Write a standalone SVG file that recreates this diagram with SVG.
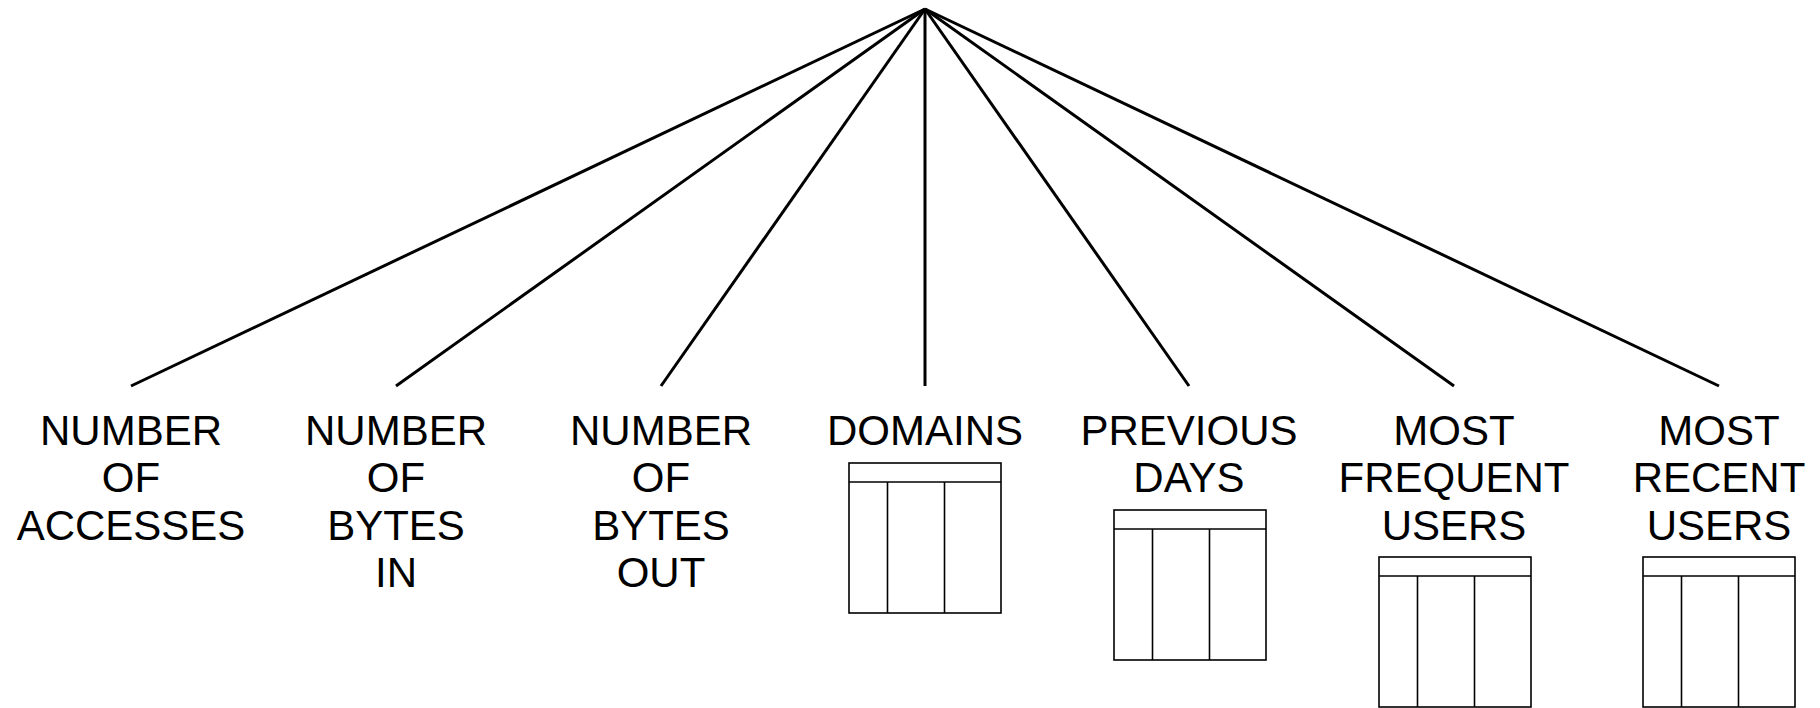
<svg xmlns="http://www.w3.org/2000/svg" width="1820" height="708" viewBox="0 0 1820 708">
<style>
.lbl{font-family:"Liberation Sans",Arial,sans-serif;font-size:42px;fill:#000;text-anchor:middle}
.conn{stroke:#000;stroke-width:3;fill:none;stroke-linecap:butt}
.tbl{stroke:#000;stroke-width:1.6;fill:#fff}
</style>
<defs>
<g id="table">
<rect class="tbl" x="0" y="0" width="152" height="150"/>
<line class="tbl" x1="0" y1="19" x2="152" y2="19"/>
<line class="tbl" x1="38.5" y1="19" x2="38.5" y2="150"/>
<line class="tbl" x1="95.5" y1="19" x2="95.5" y2="150"/>
</g>
</defs>
<rect width="1820" height="708" fill="#fff"/>
<g id="connectors">
<line class="conn" x1="925" y1="9" x2="131" y2="386"/>
<line class="conn" x1="925" y1="9" x2="396" y2="386"/>
<line class="conn" x1="925" y1="9" x2="661" y2="386"/>
<line class="conn" x1="925" y1="9" x2="925" y2="386"/>
<line class="conn" x1="925" y1="9" x2="1189" y2="386"/>
<line class="conn" x1="925" y1="9" x2="1454" y2="386"/>
<line class="conn" x1="925" y1="9" x2="1719" y2="386"/>
</g>
<g id="node-accesses">
<text class="lbl" x="131" y="444.5">NUMBER</text>
<text class="lbl" x="131" y="492">OF</text>
<text class="lbl" x="131" y="539.5">ACCESSES</text>
</g>
<g id="node-bytes-in">
<text class="lbl" x="396" y="444.5">NUMBER</text>
<text class="lbl" x="396" y="492">OF</text>
<text class="lbl" x="396" y="539.5">BYTES</text>
<text class="lbl" x="396" y="587">IN</text>
</g>
<g id="node-bytes-out">
<text class="lbl" x="661" y="444.5">NUMBER</text>
<text class="lbl" x="661" y="492">OF</text>
<text class="lbl" x="661" y="539.5">BYTES</text>
<text class="lbl" x="661" y="587">OUT</text>
</g>
<g id="node-domains">
<text class="lbl" x="925" y="444.5">DOMAINS</text>
<use href="#table" x="849" y="463"/>
</g>
<g id="node-previous-days">
<text class="lbl" x="1189" y="444.5">PREVIOUS</text>
<text class="lbl" x="1189" y="492">DAYS</text>
<use href="#table" x="1114" y="510"/>
</g>
<g id="node-frequent-users">
<text class="lbl" x="1454" y="444.5">MOST</text>
<text class="lbl" x="1454" y="492">FREQUENT</text>
<text class="lbl" x="1454" y="539.5">USERS</text>
<use href="#table" x="1379" y="557"/>
</g>
<g id="node-recent-users">
<text class="lbl" x="1719" y="444.5">MOST</text>
<text class="lbl" x="1719" y="492">RECENT</text>
<text class="lbl" x="1719" y="539.5">USERS</text>
<use href="#table" x="1643" y="557"/>
</g>
</svg>
